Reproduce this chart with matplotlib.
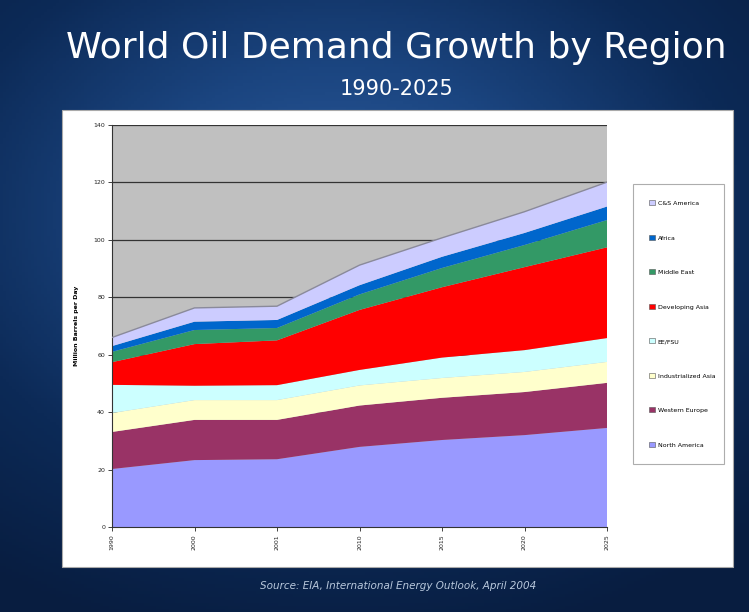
import numpy as np
import matplotlib
matplotlib.use("Agg")
import matplotlib.pyplot as plt
from matplotlib.patches import Rectangle, Patch
from matplotlib.colors import LinearSegmentedColormap

# ---- data (million barrels per day) ----
years = ["1990", "2000", "2001", "2010", "2015", "2020", "2025"]
north_america = [20.2, 23.3, 23.6, 27.9, 30.3, 32.0, 34.5]
western_europe = [12.9, 14.0, 13.7, 14.4, 14.7, 15.0, 15.7]
industrialized_asia = [6.6, 6.9, 6.9, 7.0, 6.9, 7.0, 7.3]
ee_fsu = [9.8, 5.0, 5.2, 5.4, 7.1, 7.6, 8.3]
developing_asia = [7.9, 14.5, 15.6, 20.9, 24.5, 28.9, 31.6]
middle_east = [3.6, 4.9, 4.3, 5.4, 6.7, 7.7, 9.5]
africa = [2.0, 2.9, 2.8, 3.2, 3.9, 4.2, 4.7]
cs_america = [3.0, 4.8, 4.8, 7.0, 6.6, 7.4, 8.5]

series_names = ["North America", "Western Europe", "Industrialized Asia", "EE/FSU",
                "Developing Asia", "Middle East", "Africa", "C&S America"]
series_vals = [north_america, western_europe, industrialized_asia, ee_fsu,
               developing_asia, middle_east, africa, cs_america]
series_colors = ["#9999FF", "#993366", "#FFFFCC", "#CCFFFF",
                 "#FF0000", "#339966", "#0066CC", "#CCCCFF"]
yticks = [0, 20, 40, 60, 80, 100, 120, 140]

W, H = 749, 612
fig = plt.figure(figsize=(W / 100, H / 100), dpi=100)

# ---- background gradient ----
bg = fig.add_axes([0, 0, 1, 1], zorder=0)
yy, xx = np.mgrid[0:1:200j, 0:1:240j]
r = np.sqrt(((xx - 0.45) / 0.9) ** 2 + ((yy - 0.35) / 0.8) ** 2)
cmap = LinearSegmentedColormap.from_list("bgc", ["#2d5c9e", "#1b4580", "#0c2a57", "#081d40"])
bg.imshow(r, cmap=cmap, aspect="auto", extent=[0, 1, 0, 1], origin="upper", vmin=0, vmax=0.9)
bg.set_xlim(0, 1); bg.set_ylim(0, 1)
bg.axis("off")

# white chart box
fig.patches.append(Rectangle((62 / W, 1 - 567 / H), (733 - 62) / W, (567 - 110) / H,
                             transform=fig.transFigure, facecolor="white",
                             edgecolor="#aaaaaa", lw=0.8, zorder=1))

# titles
fig.text(396 / W, 1 - 48 / H, "World Oil Demand Growth by Region", color="white",
         fontsize=26, ha="center", va="center", family="DejaVu Sans", zorder=2)
fig.text(397 / W, 1 - 89 / H, "1990-2025", color="white", fontsize=15,
         ha="center", va="center", zorder=2)
fig.text(398 / W, 1 - 586 / H, "Source: EIA, International Energy Outlook, April 2004",
         color="#b8c8dc", fontsize=7.5, style="italic", ha="center", va="center", zorder=2)

# ---- plot ----
ax = fig.add_axes([112 / W, 1 - 527 / H, (607 - 112) / W, (527 - 125) / H], zorder=3)
ax.set_facecolor("#C0C0C0")
x = np.arange(len(years))
ax.stackplot(x, *series_vals, colors=series_colors, labels=series_names,
             linewidth=0, zorder=2)
total = np.sum(np.array(series_vals), axis=0)
ax.plot(x, total, color="#8a8a9a", lw=1.0, zorder=3)

ax.set_xlim(0, len(years) - 1)
ax.set_ylim(0, 140)
ax.set_yticks(yticks)
ax.set_yticklabels([str(v) for v in yticks], fontsize=4.5)
ax.set_xticks(x)
ax.set_xticklabels(years, rotation=90, fontsize=4.5)
ax.yaxis.grid(True, color="#333333", lw=0.9, zorder=1)
ax.set_axisbelow(True)
for s in ["top", "right"]:
    ax.spines[s].set_visible(False)
ax.spines["left"].set_color("#333333")
ax.spines["bottom"].set_color("#333333")
ax.tick_params(axis="both", length=3, width=0.6, pad=2, colors="#222222")
ax.set_ylabel("Million Barrels per Day", fontsize=4.5, fontweight="bold", labelpad=10)

handles = [Patch(facecolor=c, edgecolor="#555555", lw=0.4) for c in series_colors][::-1]
leg = ax.legend(handles, series_names[::-1], loc="upper left",
                bbox_to_anchor=(630 / W, 1 - 187 / H, 97 / W, 0.01),
                bbox_transform=fig.transFigure, mode="expand",
                fontsize=4.5, labelspacing=4.6, handlelength=0.9, handleheight=0.9,
                handletextpad=0.4, borderpad=2.6, frameon=True, fancybox=False)
leg.get_frame().set_edgecolor("#999999")
leg.get_frame().set_linewidth(0.8)

fig.savefig("out.png", dpi=100)
